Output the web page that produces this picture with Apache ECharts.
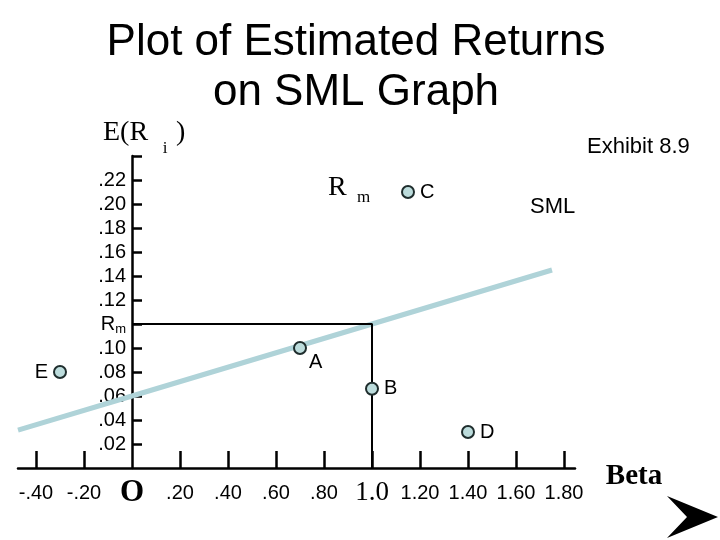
<!DOCTYPE html>
<html>
<head>
<meta charset="utf-8">
<style>html,body{margin:0;padding:0;background:#fff;}#c{width:720px;height:540px;}</style>
<script src="https://cdn.jsdelivr.net/npm/echarts@6/dist/echarts.min.js"></script>
</head>
<body>
<div id="c"></div>
<script>
// Beta axis ticks and labels
const betaTicks = [-0.4, -0.2, 0, 0.2, 0.4, 0.6, 0.8, 1.0, 1.2, 1.4, 1.6, 1.8];
const betaLabels = ['-.40', '-.20', 'O', '.20', '.40', '.60', '.80', '1.0', '1.20', '1.40', '1.60', '1.80'];
// Return axis: evenly spaced label slots (slot 1 = .02 ... slot 12 = .22, Rm inserted)
const returnSlots = [1, 2, 3, 4, 5, 6, 7, 8, 9, 10, 11, 12];
const returnLabels = ['.02', '.04', '.06', '.08', '.10', 'Rm', '.12', '.14', '.16', '.18', '.20', '.22'];
// Security market line (beta, return slot)
const smlBeta = [-0.475, 0, 1.0, 1.75];
const smlReturn = [1.58, 3, 6, 8.25];
// Market guide lines (to Rm at beta 1.0)
const guideBeta = [0, 1.0, 1.0];
const guideReturn = [6, 6, 0];
// Estimated returns of stocks
const stockNames = ['A', 'B', 'C', 'D', 'E'];
const stockBeta = [0.7, 1.0, 1.15, 1.4, -0.3];
const stockReturn = [5, 3.3, 11.5, 1.5, 4];
const stockLabelPos = ['right', 'right', 'right', 'right', 'left'];

const SANS = 'Liberation Sans';
const SERIF = 'Liberation Serif';

const chart = echarts.init(document.getElementById('c'), null, {renderer: 'canvas'});

const stockData = stockNames.map((n, i) => {
  const d = {value: [stockBeta[i], stockReturn[i]], name: n, label: {position: stockLabelPos[i]}};
  if (n === 'A') d.label.offset = [-3, 14];
  return d;
});

chart.setOption({
  animation: false,
  backgroundColor: '#ffffff',
  grid: {left: 18, right: 145, top: 156, bottom: 72, containLabel: false, outerBoundsMode: 'none'},
  xAxis: {
    type: 'value', min: -0.475, max: 1.8458,
    splitLine: {show: false},
    axisLine: {show: true, onZero: true, lineStyle: {color: '#000', width: 2.5}},
    axisTick: {show: true, inside: true, length: 17, lineStyle: {color: '#000', width: 2.5},
      customValues: betaTicks.filter(v => v !== 0)},
    axisLabel: {
      show: true, margin: 15, color: '#000', fontFamily: SANS, fontSize: 20,
      customValues: betaTicks,
      formatter: function (v) {
        let k = 0, best = 1e9;
        betaTicks.forEach((t, i) => { const d = Math.abs(t - v); if (d < best) { best = d; k = i; } });
        const s = betaLabels[k];
        if (s === 'O') return '{o|O}';
        if (s === '1.0') return '{s|1.0}';
        return s;
      },
      rich: {
        o: {fontFamily: SERIF, fontWeight: 'bold', fontSize: 31, lineHeight: 20, color: '#000'},
        s: {fontFamily: SERIF, fontSize: 27, lineHeight: 20, color: '#000'}
      }
    }
  },
  yAxis: {
    type: 'value', min: 0, max: 13, position: 'left', offset: -114,
    splitLine: {show: false},
    axisLine: {show: true, onZero: false, lineStyle: {color: '#000', width: 2.5}},
    axisTick: {show: true, inside: true, length: 10, lineStyle: {color: '#000', width: 2.5},
      customValues: returnSlots.concat([13])},
    axisLabel: {
      show: true, margin: 6, color: '#000', fontFamily: SANS, fontSize: 20,
      customValues: returnSlots,
      formatter: function (v) {
        const k = Math.round(v) - 1;
        const s = returnLabels[k] || '';
        if (s === 'Rm') return 'R{m|m}';
        return s;
      },
      rich: {m: {fontFamily: SANS, fontSize: 13, padding: [10, 0, 0, 0], color: '#000'}}
    }
  },
  series: [
    {
      type: 'line', silent: true, symbol: 'none', z: 1,
      data: smlBeta.map((b, i) => [b, smlReturn[i]]),
      lineStyle: {color: '#afd3d8', width: 5}
    },
    {
      type: 'line', silent: true, symbol: 'none', z: 2,
      data: guideBeta.map((b, i) => [b, guideReturn[i]]),
      lineStyle: {color: '#000', width: 2}
    },
    {
      type: 'scatter', z: 3, symbol: 'circle', symbolSize: 12,
      data: stockData,
      itemStyle: {color: '#bcdcdc', borderColor: '#1f2d2d', borderWidth: 2, opacity: 1},
      label: {show: true, formatter: '{b}', color: '#000', fontFamily: SANS, fontSize: 20, distance: 5}
    }
  ],
  graphic: [
    {type: 'text', style: {text: 'Plot of Estimated Returns', x: 356, y: 43, align: 'center', verticalAlign: 'middle', font: '44px "Liberation Sans"', fill: '#000'}},
    {type: 'text', style: {text: 'on SML Graph', x: 356, y: 93, align: 'center', verticalAlign: 'middle', font: '44px "Liberation Sans"', fill: '#000'}},
    {type: 'text', style: {text: 'E(R', x: 103, y: 133, align: 'left', verticalAlign: 'middle', font: '28px "Liberation Serif"', fill: '#000'}},
    {type: 'text', style: {text: 'i', x: 165, y: 149, align: 'center', verticalAlign: 'middle', font: '17px "Liberation Serif"', fill: '#000'}},
    {type: 'text', style: {text: ')', x: 176, y: 133, align: 'left', verticalAlign: 'middle', font: '28px "Liberation Serif"', fill: '#000'}},
    {type: 'text', style: {text: 'Exhibit 8.9', x: 587, y: 147, align: 'left', verticalAlign: 'middle', font: '22px "Liberation Sans"', fill: '#000'}},
    {type: 'text', style: {text: 'SML', x: 530, y: 207, align: 'left', verticalAlign: 'middle', font: '22px "Liberation Sans"', fill: '#000'}},
    {type: 'text', style: {text: 'R', x: 328, y: 188, align: 'left', verticalAlign: 'middle', font: '28px "Liberation Serif"', fill: '#000'}},
    {type: 'text', style: {text: 'm', x: 357, y: 198, align: 'left', verticalAlign: 'middle', font: '17px "Liberation Serif"', fill: '#000'}},
    {type: 'text', style: {text: 'Beta', x: 634, y: 477, align: 'center', verticalAlign: 'middle', font: 'bold 29px "Liberation Serif"', fill: '#000'}},
    {type: 'polygon', shape: {points: [[667, 496], [718, 517], [667, 538], [687, 517]]}, style: {fill: '#000'}}
  ]
});
</script>
</body>
</html>
